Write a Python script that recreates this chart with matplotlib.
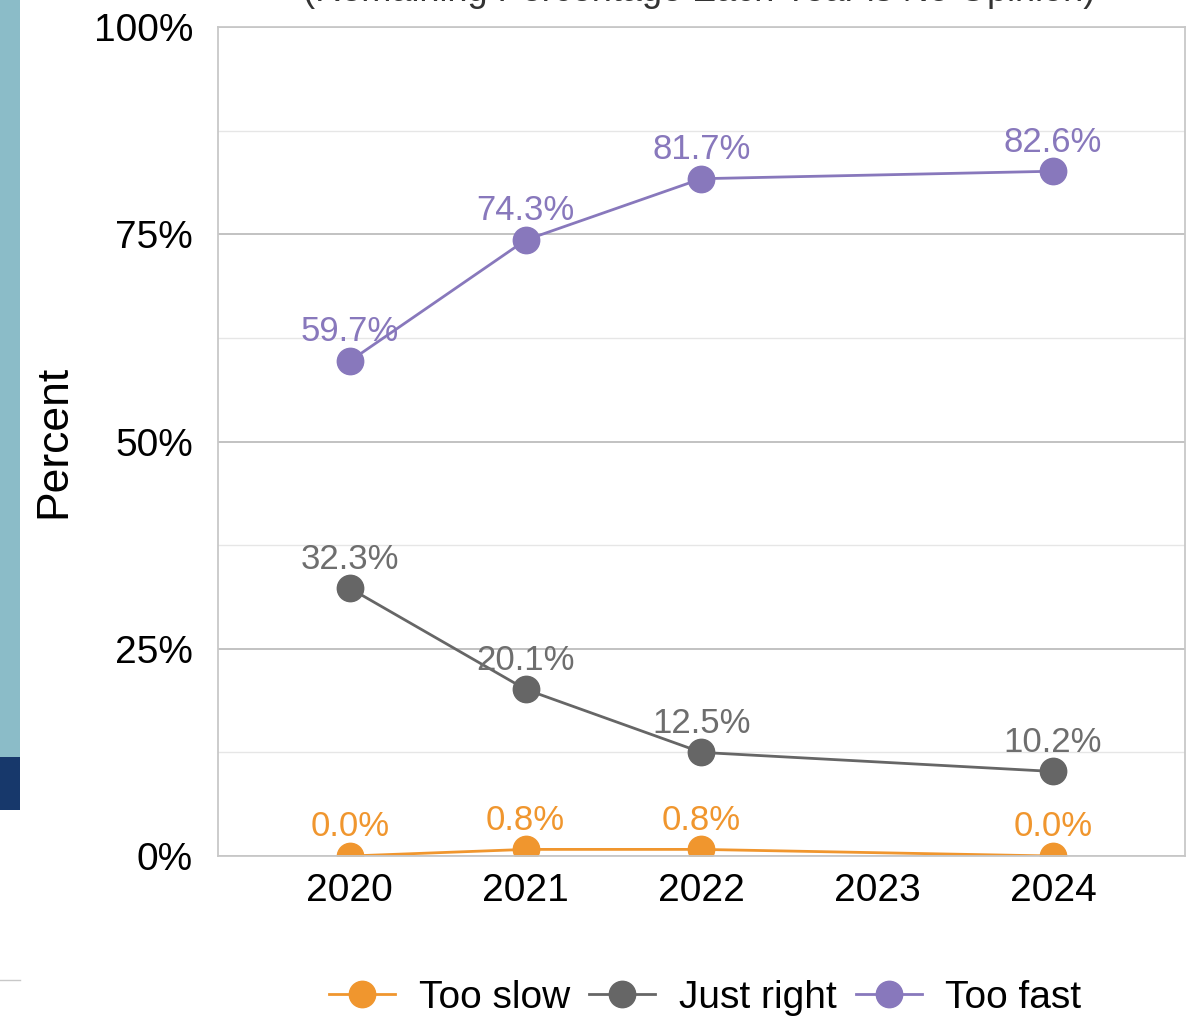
import matplotlib.pyplot as plt
from matplotlib.patches import Rectangle

plt.rcParams['font.family'] = ['Liberation Sans', 'DejaVu Sans']

years = [2020, 2021, 2022, 2024]
too_slow = [0.0, 0.8, 0.8, 0.0]
just_right = [32.3, 20.1, 12.5, 10.2]
too_fast = [59.7, 74.3, 81.7, 82.6]
xticks = [2020, 2021, 2022, 2023, 2024]

series = [
    ("Too slow", too_slow, "#F0962E", "#F0962E"),
    ("Just right", just_right, "#666666", "#6E6E6E"),
    ("Too fast", too_fast, "#8878BC", "#8878BC"),
]

fig = plt.figure(figsize=(11.95, 10.22), dpi=100)
ax = fig.add_axes([0.1824, 0.1624, 0.8092, 0.8112])

for name, vals, col, tcol in series:
    ax.plot(years, vals, color=col, lw=2.0, marker="o", ms=19, label=name)
    for x, v in zip(years, vals):
        ax.annotate(f"{v:.1f}%", (x, v), xytext=(0, 21), textcoords="offset points",
                    ha="center", va="center", fontsize=25, color=tcol)

ax.set_xlim(2019.25, 2024.75)
ax.set_ylim(0, 100)
ax.set_xticks(xticks)
ax.set_yticks([0, 25, 50, 75, 100])
ax.set_yticklabels(["0%", "25%", "50%", "75%", "100%"])
ax.set_yticks([12.5, 37.5, 62.5, 87.5], minor=True)
ax.grid(axis="y", which="major", color="#BDBDBD", lw=1.3)
ax.grid(axis="y", which="minor", color="#E6E6E6", lw=1.0)
ax.set_axisbelow(True)
ax.tick_params(axis="both", which="both", length=0, labelsize=28, pad=12)
ax.tick_params(axis="y", pad=18)
for s in ax.spines.values():
    s.set_color("#C8C8C8")
    s.set_linewidth(1.3)
ax.set_ylabel("Percent", fontsize=32, labelpad=14)

ax.legend(loc="upper center", bbox_to_anchor=(0.504, -0.107), ncol=3, frameon=False,
          fontsize=28, handlelength=1.7, handletextpad=0.6, columnspacing=0.5,
          markerscale=1.0)

# cropped subtitle at the top
fig.text(0.585, 1.008, "(Remaining Percentage Each Year is No Opinion)", ha="center",
         va="center", fontsize=26, color="#333333")

# cropped side panel from the original page
fig.add_artist(Rectangle((0, 1 - 757 / 1022), 20 / 1195, 757 / 1022,
                         transform=fig.transFigure, color="#8BBCC8", lw=0))
fig.add_artist(Rectangle((0, 1 - 810 / 1022), 20 / 1195, 53 / 1022,
                         transform=fig.transFigure, color="#17386B", lw=0))
fig.add_artist(plt.Line2D([0, 20 / 1195], [1 - 980 / 1022] * 2,
                          transform=fig.transFigure, color="#C8C8C8", lw=1))

fig.savefig("out.png", dpi=100)
